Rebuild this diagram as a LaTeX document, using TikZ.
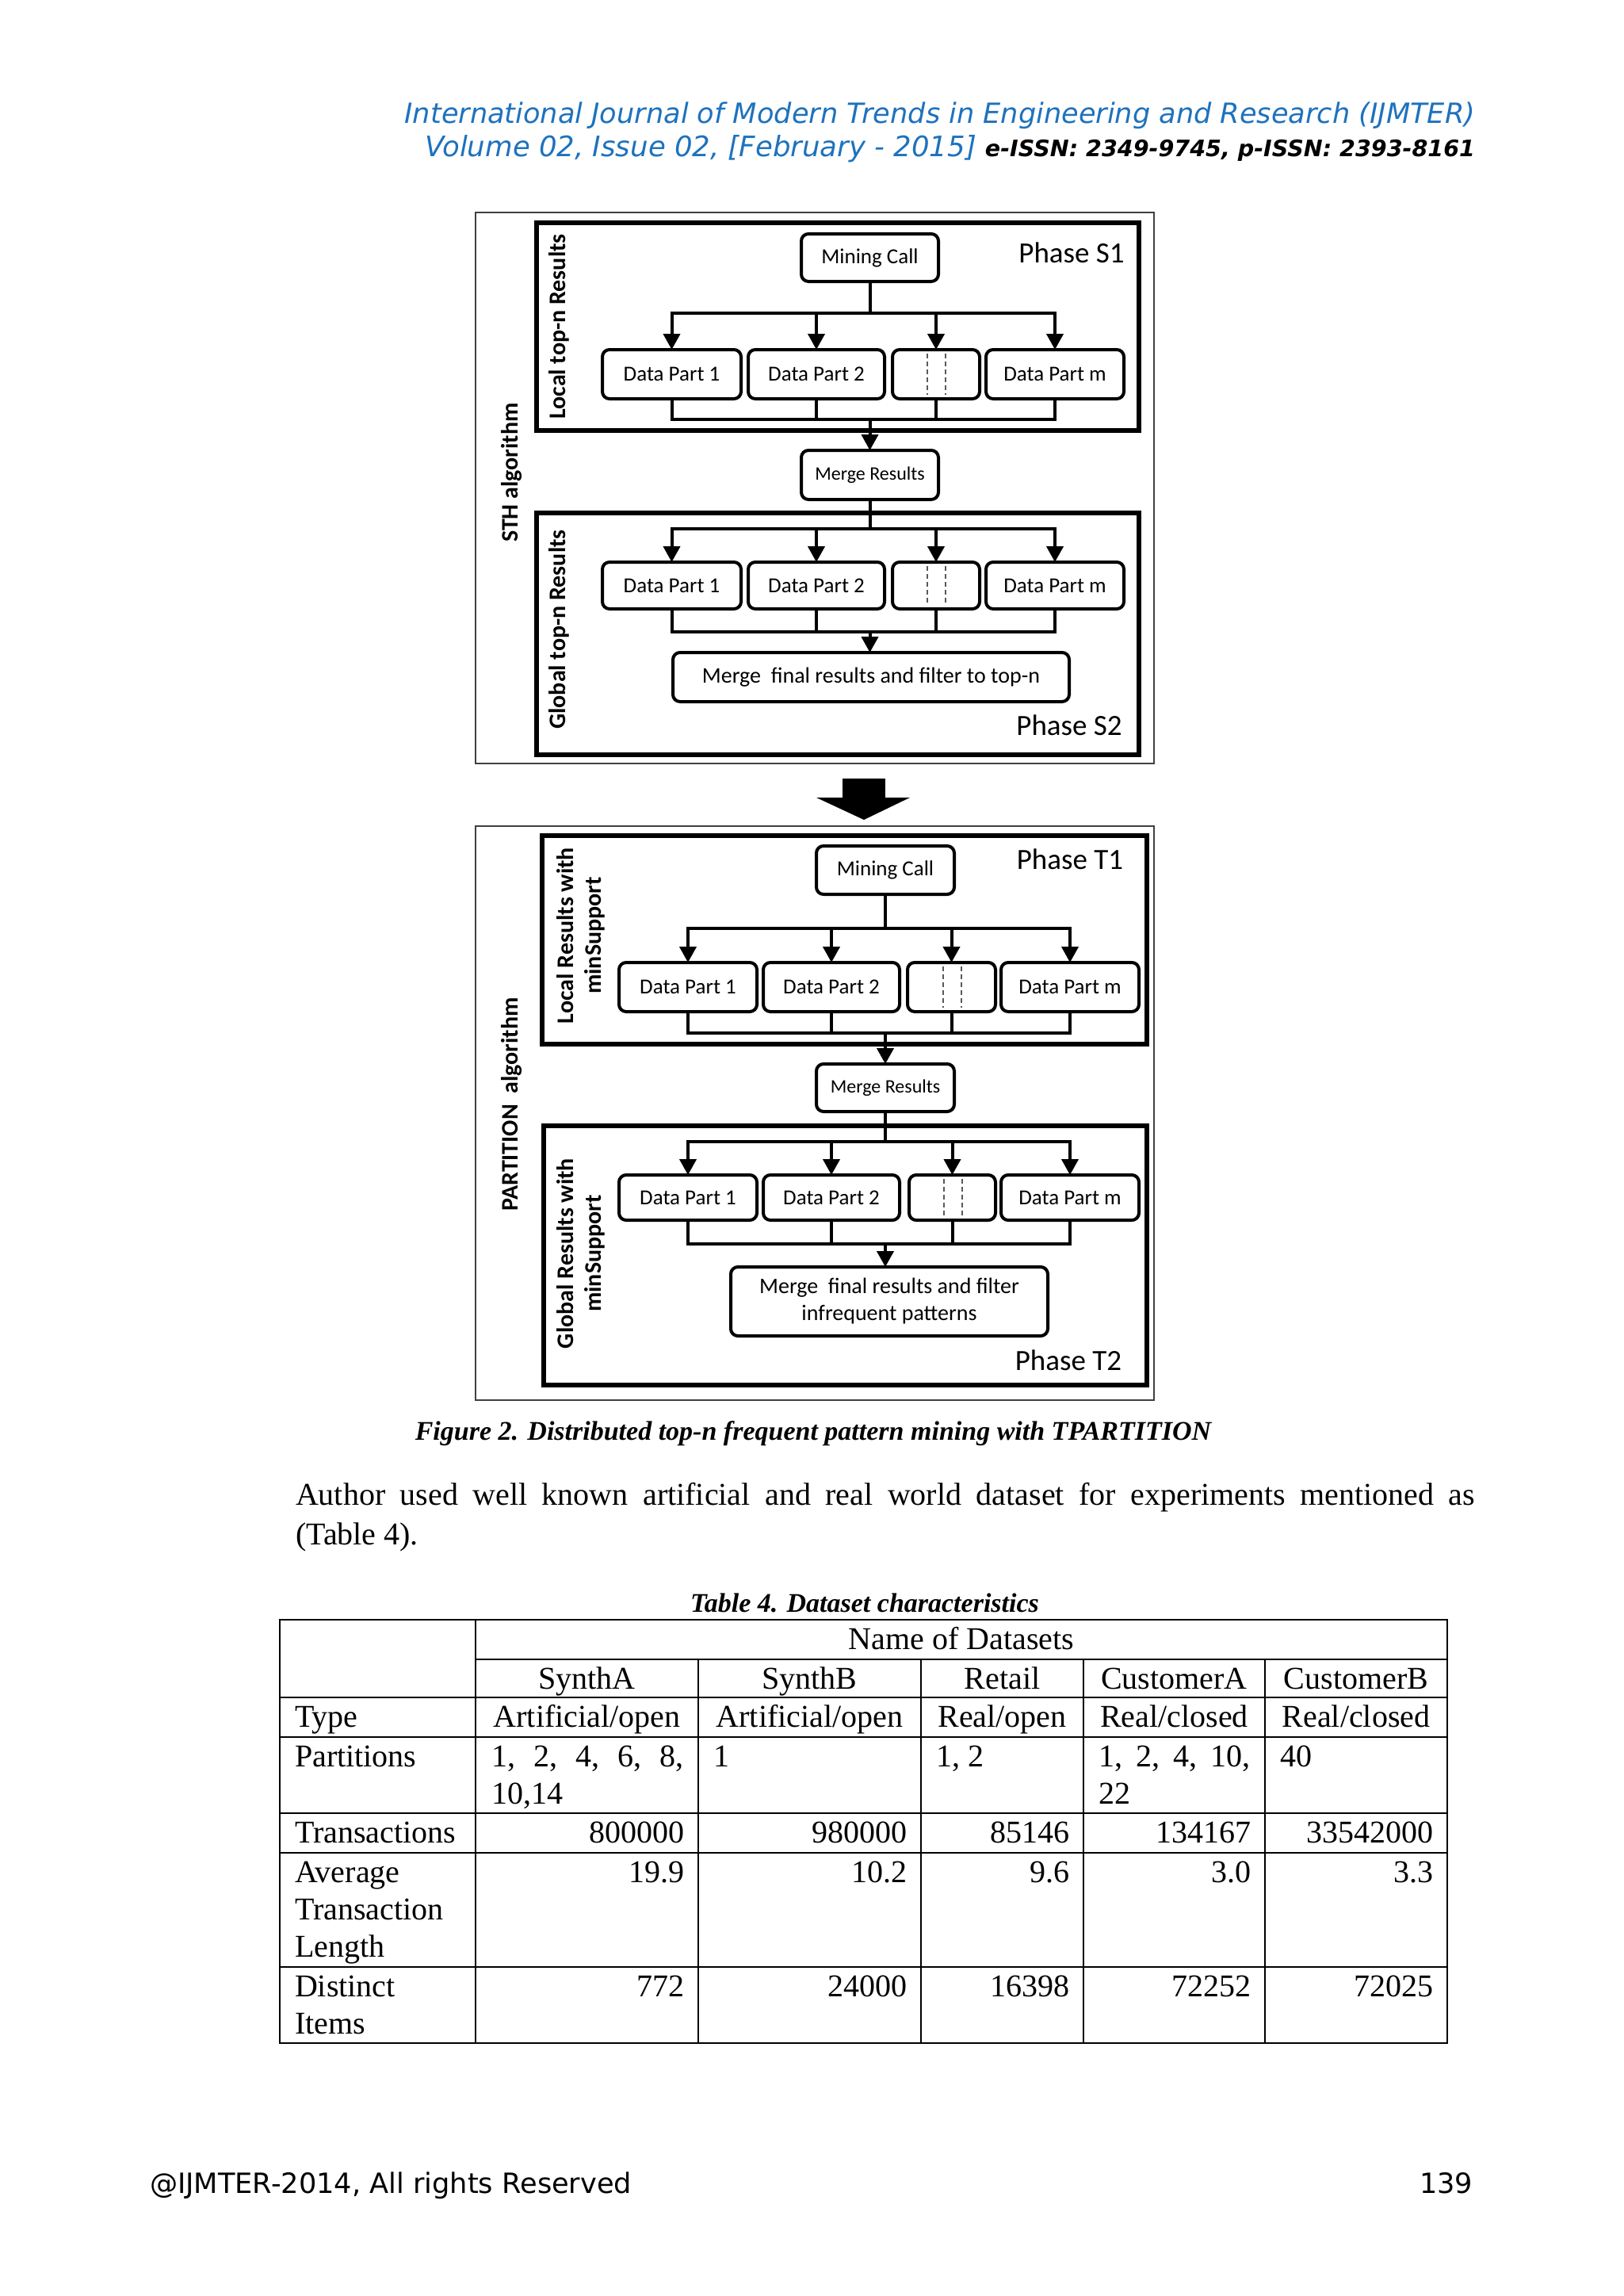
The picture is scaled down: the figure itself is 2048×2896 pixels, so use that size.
\documentclass[tikz,border=0pt]{standalone}
\usepackage{graphicx}
\usepackage{fontspec}
\setmainfont{Liberation Serif}
\newfontfamily\verd{DejaVu Sans}
\newfontfamily\calib{Carlito}
\usetikzlibrary{arrows.meta}
\definecolor{hblue}{RGB}{30,114,189}
\begin{document}
\begin{tikzpicture}[x=1pt,y=-1pt,
  every node/.style={inner sep=0pt,outer sep=0pt},
  frame/.style={draw=black!75,line width=2.5pt},
  phasebox/.style={draw,line width=6pt},
  dbox/.style={draw,line width=4pt,rounded corners=9pt,fill=white,align=center,font=\calib\fontsize{27}{33}\selectfont},
  mbox/.style={dbox,font=\calib\fontsize{24}{29}\selectfont},
  fbox/.style={dbox,font=\calib\fontsize{28}{34}\selectfont},
  conn/.style={line width=4pt,line cap=rect},
  arr/.style={line width=4pt,-{Triangle[width=21pt,length=20pt]}},
  dsh/.style={draw=black!65,line width=2pt,dash pattern=on 6pt off 4pt},
  phlab/.style={font=\calib\fontsize{37}{44}\selectfont},
  vlab/.style={rotate=90,align=center,font=\calib\bfseries\fontsize{30}{35}\selectfont},
  tline/.style={line width=2.5pt},
  ttxt/.style={font=\fontsize{40}{47}\selectfont},
]
\useasboundingbox[fill=white] (0,0) rectangle (2048,2896);

% ---------------- header ----------------
\node[anchor=base east] (h1) at (1861,155) {\resizebox{1350pt}{!}{\color{hblue}\verd\itshape International Journal of Modern Trends in Engineering and Research (IJMTER)}};
\node[anchor=base west] (h2) at (536,197) {\resizebox{696pt}{!}{\color{hblue}\verd\itshape Volume 02, Issue 02, [February - 2015]}};
\node[anchor=base east] (h3) at (1861,197) {\resizebox{618pt}{!}{\verd\bfseries\itshape e-ISSN: 2349-9745, p-ISSN: 2393-8161}};

% ---------------- STH block ----------------
\draw[frame] (600,268) rectangle (1456,963);
\draw[phasebox] (677,281) rectangle (1437,543);
\draw[phasebox] (677,647) rectangle (1437,952);

\node[vlab] (sth) at (646,596) {STH algorithm};
\node[vlab] (slocal) at (705,412) {Local top-n Results};
\node[vlab] (sglobal) at (705,794) {Global top-n Results};

\node[dbox,minimum width=173pt,minimum height=60pt] (smc) at (1097.5,325) {Mining Call};
\node[phlab] (sp1) at (1352,319) {Phase S1};

\node[dbox,minimum width=175pt,minimum height=62pt] (sa1) at (847.5,472) {Data Part 1};
\node[dbox,minimum width=172pt,minimum height=62pt] (sa2) at (1030,472) {Data Part 2};
\node[dbox,minimum width=110pt,minimum height=62pt] (sa3) at (1181,472) {};
\node[dbox,minimum width=174pt,minimum height=62pt] (sa4) at (1331,472) {Data Part m};
\draw[dsh] ([xshift=-11pt,yshift=-5pt]sa3.north) -- ([xshift=-11pt,yshift=5pt]sa3.south);
\draw[dsh] ([xshift=12pt,yshift=-5pt]sa3.north) -- ([xshift=12pt,yshift=5pt]sa3.south);

\coordinate (sb1) at (1097.5,395);
\coordinate (sj1) at (1097.5,529);
\draw[conn] (smc.south) -- (sb1);
\draw[conn] (sa1.north |- sb1) -- (sa4.north |- sb1);
\foreach \n in {sa1,sa2,sa3,sa4} {\draw[arr] (\n.north |- sb1) -- (\n.north);}
\foreach \n in {sa1,sa2,sa3,sa4} {\draw[conn] (\n.south) -- (\n.south |- sj1);}
\draw[conn] (sa1.south |- sj1) -- (sa4.south |- sj1);

\node[mbox,minimum width=173pt,minimum height=62pt] (smr) at (1097.5,599) {Merge Results};
\draw[arr] (sj1) -- (smr.north);

\node[dbox,minimum width=175pt,minimum height=59pt] (sc1) at (847.5,738.5) {Data Part 1};
\node[dbox,minimum width=172pt,minimum height=59pt] (sc2) at (1030,738.5) {Data Part 2};
\node[dbox,minimum width=110pt,minimum height=59pt] (sc3) at (1181,738.5) {};
\node[dbox,minimum width=174pt,minimum height=59pt] (sc4) at (1331,738.5) {Data Part m};
\draw[dsh] ([xshift=-11pt,yshift=-5pt]sc3.north) -- ([xshift=-11pt,yshift=5pt]sc3.south);
\draw[dsh] ([xshift=12pt,yshift=-5pt]sc3.north) -- ([xshift=12pt,yshift=5pt]sc3.south);

\coordinate (sb2) at (1097.5,667);
\coordinate (sj2) at (1097.5,797);
\draw[conn] (smr.south) -- (sb2);
\draw[conn] (sc1.north |- sb2) -- (sc4.north |- sb2);
\foreach \n in {sc1,sc2,sc3,sc4} {\draw[arr] (\n.north |- sb2) -- (\n.north);}
\foreach \n in {sc1,sc2,sc3,sc4} {\draw[conn] (\n.south) -- (\n.south |- sj2);}
\draw[conn] (sc1.south |- sj2) -- (sc4.south |- sj2);

\node[fbox,minimum width=500pt,minimum height=62pt] (smf) at (1099,854) {Merge\ \ final results and filter to top-n};
\draw[arr] (sj2) -- (sj2 |- smf.north);
\node[phlab] (sp2) at (1349,915) {Phase S2};

% ---------------- big arrow ----------------
\fill (1063,982) rectangle (1117,1007);
\fill (1030,1006) -- (1148,1006) -- (1090,1034) -- cycle;

% ---------------- PARTITION block ----------------
\draw[frame] (600,1042) rectangle (1456,1766);
\draw[phasebox] (684,1054) rectangle (1447,1317);
\draw[phasebox] (686,1420) rectangle (1447,1747);

\node[vlab] (tpart) at (646,1393) {PARTITION\ \ algorithm};
\node[vlab] (tlocal) at (733,1180) {Local Results with\\minSupport};
\node[vlab] (tglobal) at (733,1581) {Global Results with\\minSupport};

\node[dbox,minimum width=174pt,minimum height=61pt] (tmc) at (1117,1097.5) {Mining Call};
\node[phlab] (tp1) at (1350,1084) {Phase T1};

\node[dbox,minimum width=174pt,minimum height=62pt] (ta1) at (868,1245) {Data Part 1};
\node[dbox,minimum width=172pt,minimum height=62pt] (ta2) at (1049,1245) {Data Part 2};
\node[dbox,minimum width=111pt,minimum height=62pt] (ta3) at (1200.5,1245) {};
\node[dbox,minimum width=174pt,minimum height=62pt] (ta4) at (1350,1245) {Data Part m};
\draw[dsh] ([xshift=-11pt,yshift=-5pt]ta3.north) -- ([xshift=-11pt,yshift=5pt]ta3.south);
\draw[dsh] ([xshift=12pt,yshift=-5pt]ta3.north) -- ([xshift=12pt,yshift=5pt]ta3.south);

\coordinate (tb1) at (1117,1171);
\coordinate (tj1) at (1117,1303);
\draw[conn] (tmc.south) -- (tb1);
\draw[conn] (ta1.north |- tb1) -- (ta4.north |- tb1);
\foreach \n in {ta1,ta2,ta3,ta4} {\draw[arr] (\n.north |- tb1) -- (\n.north);}
\foreach \n in {ta1,ta2,ta3,ta4} {\draw[conn] (\n.south) -- (\n.south |- tj1);}
\draw[conn] (ta1.south |- tj1) -- (ta4.south |- tj1);

\node[mbox,minimum width=174pt,minimum height=60pt] (tmr) at (1117,1372) {Merge Results};
\draw[arr] (tj1) -- (tmr.north);

\node[dbox,minimum width=174pt,minimum height=57pt] (tc1) at (868,1510.5) {Data Part 1};
\node[dbox,minimum width=172pt,minimum height=57pt] (tc2) at (1049,1510.5) {Data Part 2};
\node[dbox,minimum width=109pt,minimum height=57pt] (tc3) at (1201.5,1510.5) {};
\node[dbox,minimum width=174pt,minimum height=57pt] (tc4) at (1350,1510.5) {Data Part m};
\draw[dsh] ([xshift=-11pt,yshift=-5pt]tc3.north) -- ([xshift=-11pt,yshift=5pt]tc3.south);
\draw[dsh] ([xshift=12pt,yshift=-5pt]tc3.north) -- ([xshift=12pt,yshift=5pt]tc3.south);

\coordinate (tb2) at (1117,1440);
\coordinate (tj2) at (1117,1569);
\draw[conn] (tmr.south) -- (tb2);
\draw[conn] (tc1.north |- tb2) -- (tc4.north |- tb2);
\foreach \n in {tc1,tc2,tc3,tc4} {\draw[arr] (\n.north |- tb2) -- (\n.north);}
\foreach \n in {tc1,tc2,tc3,tc4} {\draw[conn] (\n.south) -- (\n.south |- tj2);}
\draw[conn] (tc1.south |- tj2) -- (tc4.south |- tj2);

\node[fbox,minimum width=400pt,minimum height=87pt] (tmf) at (1122,1641.5) {Merge\ \ final results and filter\\infrequent patterns};
\draw[arr] (tj2) -- (tj2 |- tmf.north);
\node[phlab] (tp2) at (1348,1716) {Phase T2};

% ---------------- captions and text ----------------
\node[anchor=base,font=\fontsize{34}{40}\selectfont\bfseries\itshape] (fcap) at (1026,1816) {Figure 2. Distributed top-n frequent pattern mining with TPARTITION};
\node[anchor=base west,font=\fontsize{40}{50}\selectfont] (body1) at (373,1898) {\makebox[1488pt][s]{Author used well known artificial and real world dataset for experiments mentioned as}};
\node[anchor=base west,font=\fontsize{40}{50}\selectfont] (body2) at (373,1948) {(Table 4).};
\node[anchor=base,font=\fontsize{34}{40}\selectfont\bfseries\itshape] (tcap) at (1091,2033) {Table 4. Dataset characteristics};

% ---------------- table ----------------
\draw[tline] (353,2043) rectangle (1826,2577);
\draw[tline] (600,2093) -- (1826,2093);
\foreach \yy in {2141,2191,2287,2337,2481} {\draw[tline] (353,\yy) -- (1826,\yy);}
\draw[tline] (600,2043) -- (600,2577);
\foreach \xx in {881,1162,1367,1596} {\draw[tline] (\xx,2093) -- (\xx,2577);}

\node[ttxt,anchor=base] (tn) at (1213,2080) {Name of Datasets};
\node[ttxt,anchor=base] (th1) at (740.5,2130) {SynthA};
\node[ttxt,anchor=base] (th2) at (1021.5,2130) {SynthB};
\node[ttxt,anchor=base] (th3) at (1264.5,2130) {Retail};
\node[ttxt,anchor=base] (th4) at (1481.5,2130) {CustomerA};
\node[ttxt,anchor=base] (th5) at (1711,2130) {CustomerB};

\node[ttxt,anchor=base west] (r1) at (372,2178) {Type};
\node[ttxt,anchor=base] (r1a) at (740.5,2178) {Artificial/open};
\node[ttxt,anchor=base] (r1b) at (1021.5,2178) {Artificial/open};
\node[ttxt,anchor=base] (r1c) at (1264.5,2178) {Real/open};
\node[ttxt,anchor=base] (r1d) at (1481.5,2178) {Real/closed};
\node[ttxt,anchor=base] (r1e) at (1711,2178) {Real/closed};

\node[ttxt,anchor=base west] (r2) at (372,2228) {Partitions};
\node[ttxt,anchor=base west] (r2a) at (620,2228) {\makebox[242pt][s]{1, 2, 4, 6, 8,}};
\node[ttxt,anchor=base west] (r2a2) at (620,2275) {10,14};
\node[ttxt,anchor=base west] (r2b) at (900,2228) {1};
\node[ttxt,anchor=base west] (r2c) at (1181,2228) {1, 2};
\node[ttxt,anchor=base west] (r2d) at (1386,2228) {\makebox[191pt][s]{1, 2, 4, 10,}};
\node[ttxt,anchor=base west] (r2d2) at (1386,2275) {22};
\node[ttxt,anchor=base west] (r2e) at (1615,2228) {40};

\node[ttxt,anchor=base west] (r3) at (372,2324) {Transactions};
\node[ttxt,anchor=base east] (r3a) at (863,2324) {800000};
\node[ttxt,anchor=base east] (r3b) at (1144,2324) {980000};
\node[ttxt,anchor=base east] (r3c) at (1349,2324) {85146};
\node[ttxt,anchor=base east] (r3d) at (1578,2324) {134167};
\node[ttxt,anchor=base east] (r3e) at (1808,2324) {33542000};

\node[ttxt,anchor=base west] (r4) at (372,2374) {Average};
\node[ttxt,anchor=base west] (r4l2) at (372,2421) {Transaction};
\node[ttxt,anchor=base west] (r4l3) at (372,2468) {Length};
\node[ttxt,anchor=base east] (r4a) at (863,2374) {19.9};
\node[ttxt,anchor=base east] (r4b) at (1144,2374) {10.2};
\node[ttxt,anchor=base east] (r4c) at (1349,2374) {9.6};
\node[ttxt,anchor=base east] (r4d) at (1578,2374) {3.0};
\node[ttxt,anchor=base east] (r4e) at (1808,2374) {3.3};

\node[ttxt,anchor=base west] (r5) at (372,2518) {Distinct};
\node[ttxt,anchor=base west] (r5l2) at (372,2565) {Items};
\node[ttxt,anchor=base east] (r5a) at (863,2518) {772};
\node[ttxt,anchor=base east] (r5b) at (1144,2518) {24000};
\node[ttxt,anchor=base east] (r5c) at (1349,2518) {16398};
\node[ttxt,anchor=base east] (r5d) at (1578,2518) {72252};
\node[ttxt,anchor=base east] (r5e) at (1808,2518) {72025};

% ---------------- footer ----------------
\node[anchor=base west] (f1) at (189,2766) {\resizebox{608pt}{!}{\verd @IJMTER-2014, All rights Reserved}};
\node[anchor=base east] (f2) at (1858,2766) {\resizebox{67pt}{!}{\verd 139}};
\end{tikzpicture}
\end{document}
